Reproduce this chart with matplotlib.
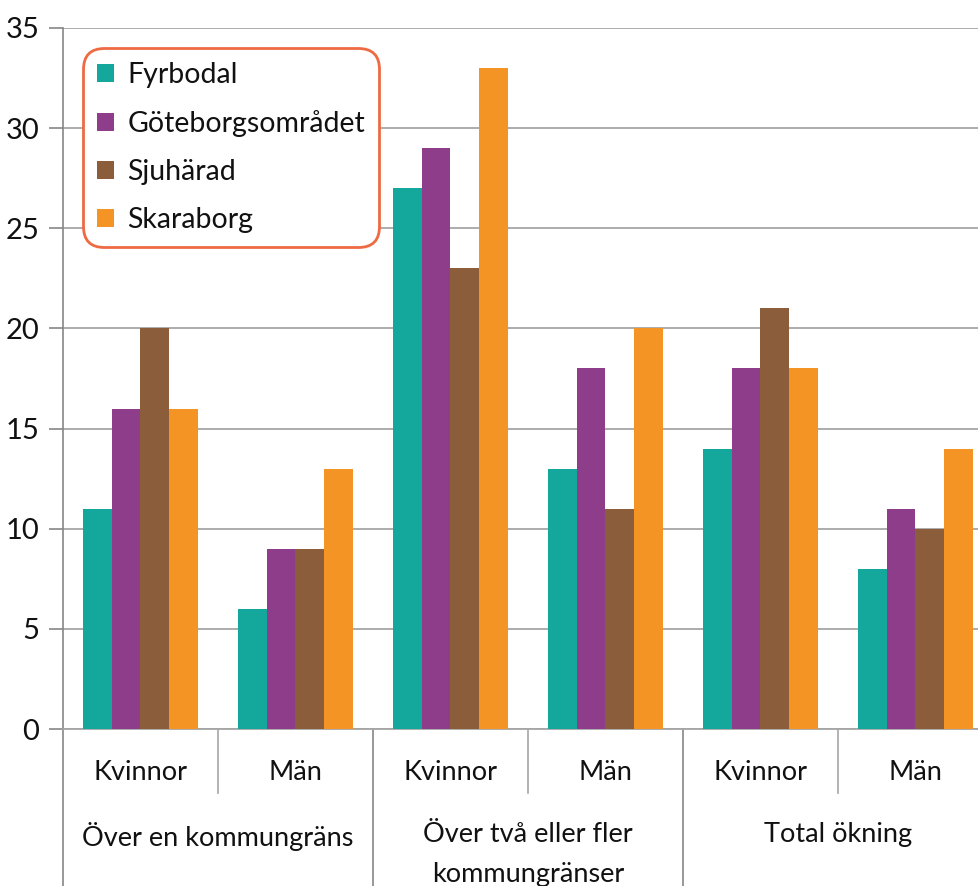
import matplotlib
matplotlib.use("Agg")
import matplotlib.pyplot as plt
import numpy as np

plt.rcParams['font.family'] = ['Lato', 'DejaVu Sans']

series = ["Fyrbodal", "Göteborgsområdet", "Sjuhärad", "Skaraborg"]
colors = ["#14A79C", "#8E3D8B", "#8B5D3A", "#F39424"]
sub_labels = ["Kvinnor", "Män", "Kvinnor", "Män", "Kvinnor", "Män"]
group_labels = ["Över en kommungräns", "Över två eller fler\nkommungränser", "Total ökning"]

fyrbodal = [11, 6, 27, 13, 14, 8]
goteborg = [16, 9, 29, 18, 18, 11]
sjuharad = [20, 9, 23, 11, 21, 10]
skaraborg = [16, 13, 33, 20, 18, 14]
values = [fyrbodal, goteborg, sjuharad, skaraborg]

W, H = 979, 886
fig = plt.figure(figsize=(W / 100, H / 100), dpi=100)
x0, x1, y0, y1 = 63, 993, 729, 28
ax = fig.add_axes([x0 / W, 1 - y0 / H, (x1 - x0) / W, (y0 - y1) / H])

n = len(sub_labels)
x = np.arange(n)
bw = 0.74 / 4
for i, (vals, c, name) in enumerate(zip(values, colors, series)):
    ax.bar(x + (i - 1.5) * bw, vals, bw, color=c, label=name, zorder=3)

ax.set_xlim(-0.5, n - 0.5)
ax.set_ylim(0, 35)
ax.set_yticks(range(0, 36, 5))
ax.tick_params(axis='y', labelsize=21, length=10, color="#868686", width=1.2, pad=7,
               labelcolor="#111111")
ax.set_xticks([])
ax.grid(axis='y', color="#A6A6A6", linewidth=1.3, zorder=0)
for s in ["top", "right"]:
    ax.spines[s].set_visible(False)
ax.spines["left"].set_color("#868686")
ax.spines["bottom"].set_color("#A6A6A6")
ax.spines["left"].set_linewidth(1.2)
ax.spines["bottom"].set_linewidth(1.3)

# multi-level category axis
ph = y0 - y1
def yf(py):
    return -(py - y0) / ph

tr = ax.get_xaxis_transform()
ax.plot([-0.5, -0.5], [0, yf(H + 5)], transform=tr, clip_on=False, color="#868686", lw=1.2)
for b in [1.5, 3.5]:
    ax.plot([b, b], [0, yf(H + 5)], transform=tr, clip_on=False, color="#868686", lw=1.2)
for b in [0.5, 2.5, 4.5]:
    ax.plot([b, b], [0, yf(793)], transform=tr, clip_on=False, color="#A6A6A6", lw=1.2)
for xi, lab in zip(x, sub_labels):
    ax.text(xi, yf(773), lab, transform=tr, ha='center', va='center', fontsize=19.5,
            color="#111111")
for gi, lab in enumerate(group_labels):
    ax.text(2 * gi + 0.5, yf(822), lab, transform=tr, ha='center', va='top',
            fontsize=19.5, linespacing=1.75, color="#111111")

leg = ax.legend(loc='upper left', bbox_to_anchor=(83 / W, 1 - 48 / H),
                bbox_transform=fig.transFigure, borderaxespad=0,
                fontsize=20.5, handlelength=0.6, handleheight=0.6, handletextpad=0.45,
                labelspacing=0.77, borderpad=0.5, fancybox=True, framealpha=1)
for t in leg.get_texts():
    t.set_color("#111111")
fr = leg.get_frame()
fr.set_edgecolor("#EE6A43")
fr.set_linewidth(2)
fr.set_boxstyle("round,pad=0,rounding_size=0.75")

fig.savefig("out.png", dpi=100)
